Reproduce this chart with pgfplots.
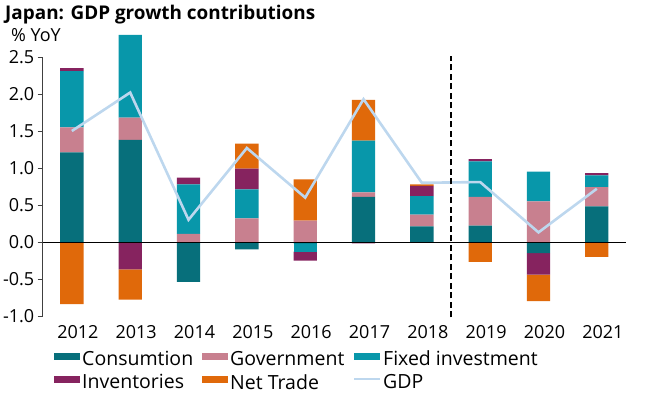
\documentclass[border=0pt]{standalone}
\usepackage{fontspec}
\setmainfont{Open Sans}
\usepackage{pgfplots}
\pgfplotsset{compat=1.18}
\definecolor{cons}{HTML}{076F7B}
\definecolor{gov}{HTML}{C8808F}
\definecolor{fixinv}{HTML}{0897AA}
\definecolor{inv}{HTML}{86235F}
\definecolor{ntr}{HTML}{E0690A}
\definecolor{gdp}{HTML}{BDD7EE}
\pgfplotsset{
  base/.style={
    at={(42.7pt,81pt)}, anchor=south west, scale only axis,
    width=583.3pt, height=259pt,
    xmin=-0.5, xmax=9.5, ymin=-1, ymax=2.5, clip=false,
  },
  barleg/.style={legend image code/.code={\fill[##1,draw=none] (0pt,-0.5pt) rectangle (26pt,6.5pt);}},
  lineleg/.style={legend image code/.code={\draw[##1] (0pt,3.5pt) -- (26pt,3.5pt);}},
}
\begin{document}
\begin{tikzpicture}[x=1pt,y=1pt]
\path[use as bounding box] (0,0) rectangle (655,397);
\node[anchor=base west, font=\bfseries\fontsize{18.9}{22}\selectfont, inner sep=0] at (5,377.7) {Japan: GDP growth contributions};
\node[anchor=base west, font=\fontsize{18}{22}\selectfont, inner sep=0] at (11,355.3) {\% YoY};
% positive parts
\begin{axis}[base,
  axis lines=left, axis line style={-, draw=black!75, line width=0.8pt},
  x axis line style={draw=none},
  ybar stacked, bar width=23.3pt,
  xtick={0,1,2,3,4,5,6,7,8,9},
  xticklabels={2012,2013,2014,2015,2016,2017,2018,2019,2020,2021},
  xticklabel style={anchor=base, yshift=-17.3pt, xshift=6pt},
  ytick={-1,-0.5,0,0.5,1,1.5,2,2.5},
  yticklabel style={/pgf/number format/.cd, fixed, fixed zerofill, precision=1, assume math mode=true},
  tick align=outside, major tick length=5pt,
  x tick style={draw=none}, y tick style={draw=black!75, line width=0.8pt},
  tick label style={font=\fontsize{18}{20}\selectfont},
  legend columns=3,
  legend cell align=left,
  legend style={at={(0.0194,-0.127)}, anchor=north west, draw=none, fill=none, inner sep=0pt,
    font=\fontsize{19.5}{21}\selectfont,
    /tikz/every even column/.append style={column sep=7pt},
    /tikz/every odd column/.append style={column sep=0pt},
    row sep=3pt},
]
\addplot[fill=cons, draw=none, barleg] coordinates {(0,1.21) (1,1.38) (2,0) (3,0) (4,0) (5,0.61) (6,0.21) (7,0.22) (8,0) (9,0.48)};
\addlegendentry{Consumtion}
\addplot[fill=gov, draw=none, barleg] coordinates {(0,0.34) (1,0.30) (2,0.11) (3,0.32) (4,0.29) (5,0.06) (6,0.16) (7,0.39) (8,0.55) (9,0.26)};
\addlegendentry{Government}
\addplot[fill=fixinv, draw=none, barleg] coordinates {(0,0.76) (1,1.12) (2,0.67) (3,0.39) (4,0) (5,0.70) (6,0.25) (7,0.48) (8,0.40) (9,0.16)};
\addlegendentry{Fixed investment}
\addplot[fill=inv, draw=none, barleg] coordinates {(0,0.04) (1,0) (2,0.09) (3,0.28) (4,0) (5,0) (6,0.14) (7,0.03) (8,0) (9,0.03)};
\addlegendentry{Inventories}
\addplot[fill=ntr, draw=none, barleg] coordinates {(0,0) (1,0) (2,0) (3,0.34) (4,0.555) (5,0.55) (6,0.02) (7,0) (8,0) (9,0)};
\addlegendentry{Net Trade}
\addlegendimage{gdp, line width=1.8pt, lineleg}
\addlegendentry{GDP}
\end{axis}
% negative parts
\begin{axis}[base, hide axis, ybar stacked, bar width=23.3pt]
\addplot[fill=cons, draw=none] coordinates {(0,0) (1,0) (2,-0.54) (3,-0.10) (4,-0.02) (5,0) (6,0) (7,0) (8,-0.15) (9,0)};
\addplot[fill=gov, draw=none] coordinates {(0,0) (1,0) (2,0) (3,0) (4,0) (5,0) (6,0) (7,0) (8,0) (9,0)};
\addplot[fill=fixinv, draw=none] coordinates {(0,0) (1,0) (2,0) (3,0) (4,-0.11) (5,0) (6,0) (7,0) (8,0) (9,0)};
\addplot[fill=inv, draw=none] coordinates {(0,0) (1,-0.37) (2,0) (3,0) (4,-0.12) (5,-0.02) (6,0) (7,0) (8,-0.29) (9,0)};
\addplot[fill=ntr, draw=none] coordinates {(0,-0.84) (1,-0.41) (2,0) (3,0) (4,0) (5,0) (6,0) (7,-0.27) (8,-0.36) (9,-0.20)};
\end{axis}
% lines
\begin{axis}[base, hide axis]
\addplot[gdp, line width=2.6pt, no markers] coordinates {(0,1.50) (1,2.02) (2,0.30) (3,1.27) (4,0.60) (5,1.93) (6,0.80) (7,0.81) (8,0.13) (9,0.72)};
\addplot[black, line width=1pt, no markers] coordinates {(-0.5,0) (9.5,0)};
\addplot[black, line width=2.6pt, dash pattern=on 6pt off 3.5pt, no markers] coordinates {(6.5,-1.02) (6.5,2.51)};
\end{axis}
\end{tikzpicture}
\end{document}
